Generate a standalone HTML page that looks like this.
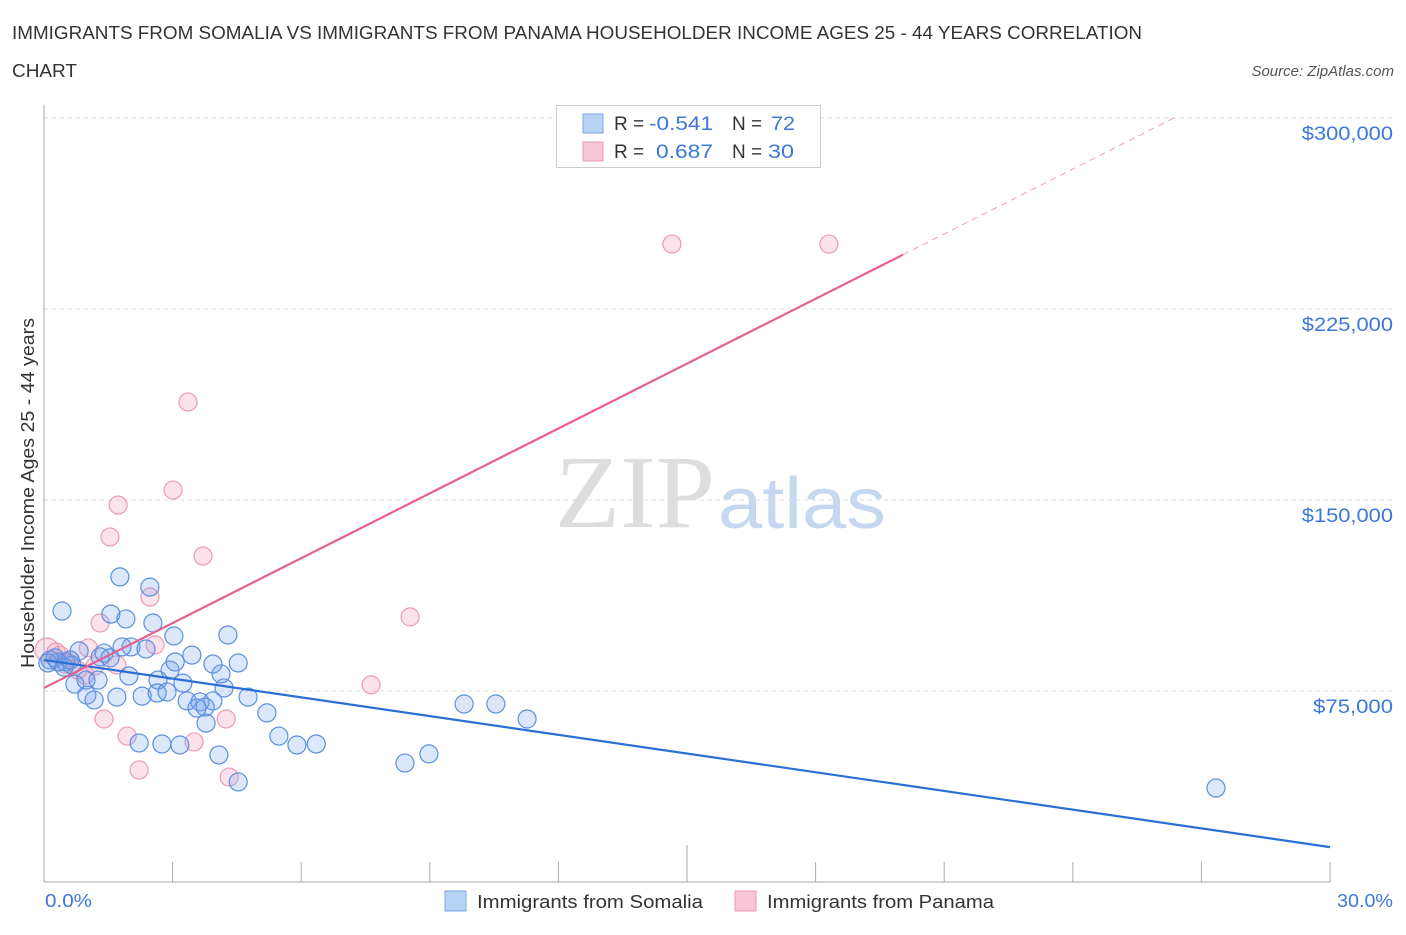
<!DOCTYPE html>
<html><head><meta charset="utf-8"><style>
body{margin:0;background:#fff;font-family:"Liberation Sans",sans-serif;}
svg text{font-family:"Liberation Sans",sans-serif;}
</style></head><body>
<svg id="c" width="1406" height="930" viewBox="0 0 1406 930" xmlns="http://www.w3.org/2000/svg">
<text x="12" y="39" font-size="18" fill="#333" textLength="1130" lengthAdjust="spacingAndGlyphs">IMMIGRANTS FROM SOMALIA VS IMMIGRANTS FROM PANAMA HOUSEHOLDER INCOME AGES 25 - 44 YEARS CORRELATION</text>
<text x="12" y="77" font-size="18" fill="#333" textLength="65" lengthAdjust="spacingAndGlyphs">CHART</text>
<text x="1394" y="76" font-size="15" fill="#555" font-style="italic" text-anchor="end">Source: ZipAtlas.com</text>
<text x="555" y="527" font-size="104" fill="#ddd" textLength="160" lengthAdjust="spacingAndGlyphs" style="font-family:'Liberation Serif',serif">ZIP</text>
<text x="718" y="528" font-size="72" fill="#c5d8f0" textLength="168" lengthAdjust="spacingAndGlyphs">atlas</text>
<g id="grid"></g>
<g id="axes"></g>
<g id="marks"></g>
<text transform="translate(34,493) rotate(-90)" font-size="18" fill="#333" text-anchor="middle" textLength="350" lengthAdjust="spacingAndGlyphs">Householder Income Ages 25 - 44 years</text>
<text x="45" y="907" font-size="18" fill="#3b78d8" textLength="47" lengthAdjust="spacingAndGlyphs">0.0%</text>
<text x="1337" y="907" font-size="18" fill="#3b78d8" textLength="56" lengthAdjust="spacingAndGlyphs">30.0%</text>
<g>
<rect x="556.5" y="105.5" width="264" height="62" fill="#fff" stroke="#ccc"/>
<rect x="583" y="114" width="20" height="19" fill="#b8d3f5" stroke="#7aa6e6"/>
<rect x="583" y="142" width="20" height="19" fill="#f8c6d6" stroke="#eb9ab6"/>
<text x="614" y="130" font-size="19" fill="#333">R =</text><text x="649" y="130" font-size="19" fill="#3b78d8" textLength="64" lengthAdjust="spacingAndGlyphs">-0.541</text>
<text x="732" y="130" font-size="19" fill="#333">N =</text><text x="771" y="130" font-size="19" fill="#3b78d8" textLength="24" lengthAdjust="spacingAndGlyphs">72</text>
<text x="614" y="158" font-size="19" fill="#333">R =</text><text x="656" y="158" font-size="19" fill="#3b78d8" textLength="57" lengthAdjust="spacingAndGlyphs">0.687</text>
<text x="732" y="158" font-size="19" fill="#333">N =</text><text x="768" y="158" font-size="19" fill="#3b78d8" textLength="26" lengthAdjust="spacingAndGlyphs">30</text>
</g>
<g>
<rect x="445" y="891" width="21" height="20" fill="#b8d3f5" stroke="#7aa6e6"/>
<text x="477" y="908" font-size="18" fill="#333" textLength="226" lengthAdjust="spacingAndGlyphs">Immigrants from Somalia</text>
<rect x="735" y="891" width="21" height="20" fill="#f8c6d6" stroke="#eb9ab6"/>
<text x="767" y="908" font-size="18" fill="#333" textLength="227" lengthAdjust="spacingAndGlyphs">Immigrants from Panama</text>
</g>
</svg>
<script>
const yTicks=[75000,150000,225000,300000];
const yTickLabels=["$75,000","$150,000","$225,000","$300,000"];
const xTicks=[0,3,6,9,12,15,18,21,24,27,30];
const somaliaX=[0.42,1.77,2.47,1.56,1.91,2.54,3.03,4.29,0.82,1.40,2.03,1.82,2.38,3.45,4.53,3.94,3.06,2.94,4.13,0.98,1.26,1.98,2.66,3.24,4.20,4.76,1.70,2.29,2.64,2.87,3.34,3.64,3.94,1.00,1.17,0.72,3.76,3.57,5.20,3.78,5.48,2.22,2.75,3.17,5.90,6.35,4.08,4.53,8.42,8.98,9.80,10.54,11.27,27.34,0.14,0.33,0.51,0.65,0.09,0.47,0.26,0.61,1.31,1.54];
const somaliaY=[106400,119800,115800,105200,103300,101700,96600,97000,90700,89900,92300,92300,91500,89100,86000,85600,86400,83200,81700,79300,79300,80900,79300,78100,76200,72600,72600,73000,74200,74600,71100,70700,71100,73400,71500,77700,68700,68300,66400,62400,57300,54600,54200,53800,53800,54200,49900,39300,46700,50300,69900,69900,64000,36900,87200,86400,86400,85200,86000,84400,88000,87200,88400,88000];
const panamaX=[0.07,0.37,0.61,0.96,1.31,1.54,1.73,3.01,3.36,3.71,2.47,2.59,1.70,1.03,1.40,1.94,2.22,3.50,4.25,4.32,7.63,8.54,14.65,18.31,0.28,0.49,0.79,1.19];
const panamaY=[91100,89100,87200,81300,101700,135500,148000,153900,188500,128000,111900,93100,85200,91900,64000,57300,44000,55000,64000,41200,77400,104100,250500,250500,90300,85600,83200,84800];
const somaliaTrend=[87200,-2450];
const panamaTrend=[76200,8490];
const panamaSolidEnd=20.04, panamaDashEnd=26.4;
const NS="http://www.w3.org/2000/svg";
const X=v=>44+v/30*1286, Y=v=>882-v/300000*764;
function mk(p,t,a){const e=document.createElementNS(NS,t);for(const k in a)e.setAttribute(k,a[k]);p.appendChild(e);return e;}
const grid=document.getElementById('grid'),axes=document.getElementById('axes'),marks=document.getElementById('marks');
yTicks.forEach((v,i)=>{
 const l=mk(grid,'line',{x1:44,x2:1394,y1:Y(v),y2:Y(v),stroke:'#ddd','stroke-dasharray':'4,4'});
 
 
 const t=mk(axes,'text',{x:1393,y:Y(v)+22,'font-size':19,fill:'#3b78d8','text-anchor':'end',textLength:yTickLabels[i].length*11.4,lengthAdjust:'spacingAndGlyphs'});
 t.textContent=yTickLabels[i];
 
 
});
const ya=mk(axes,'line',{x1:44,x2:44,y1:105,y2:882,stroke:'#aaa'});


const xa=mk(axes,'line',{x1:44,x2:1330,y1:882,y2:882,stroke:'#aaa'});


xTicks.forEach(v=>{
 const t=mk(axes,'line',{x1:X(v),x2:X(v),y1:v==15?845:862,y2:882,stroke:'#aaa'});
 
 
});
function pts(xs,ys,fill,stroke,name){xs.forEach((x,i)=>{
 const c=mk(marks,'circle',{cx:X(x),cy:Y(ys[i]),r:i==0&&name=='panama-point'?12:9,fill:fill,stroke:stroke,'stroke-width':1.2});
 
 
});}
pts(panamaX,panamaY,'rgba(244,160,190,0.3)','#ec9ab6','panama-point');
pts(somaliaX,somaliaY,'rgba(110,160,235,0.25)','#5b8fe0','somalia-point');
const f=(t,x)=>t[0]+t[1]*x;
const bl=mk(marks,'line',{x1:X(0),y1:Y(f(somaliaTrend,0)),x2:X(30),y2:Y(f(somaliaTrend,30)),stroke:'#2a6fd6','stroke-width':2.2});


const pl=mk(marks,'line',{x1:X(0),y1:Y(f(panamaTrend,0)),x2:X(panamaSolidEnd),y2:Y(f(panamaTrend,panamaSolidEnd)),stroke:'#e8608c','stroke-width':2.2});


const pd=mk(marks,'line',{x1:X(panamaSolidEnd),y1:Y(f(panamaTrend,panamaSolidEnd)),x2:X(panamaDashEnd),y2:Y(f(panamaTrend,panamaDashEnd)),stroke:'#eca0b8','stroke-width':1,'stroke-dasharray':'6,5'});


</script>
</body></html>
